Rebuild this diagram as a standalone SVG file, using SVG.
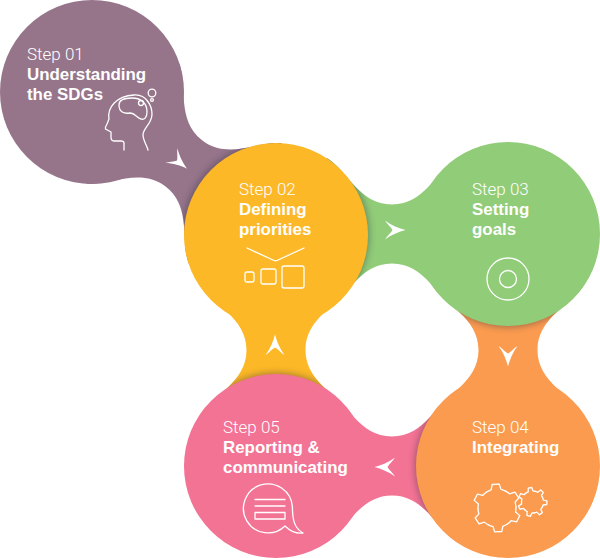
<svg xmlns="http://www.w3.org/2000/svg" width="600" height="558" viewBox="0 0 600 558">
<style>
.c1{fill:#96758B}.c2{fill:#FDB827}.c3{fill:#91CC78}.c4{fill:#FA9B50}.c5{fill:#F37395}
.step{font-family:"Roboto","Liberation Sans",sans-serif;font-weight:300;font-size:17px;fill:#fff}
.title{font-family:"Liberation Sans",Arial,sans-serif;font-weight:700;font-size:16.9px;fill:#fff}
.icon{fill:none;stroke:#fff;stroke-width:1.3;stroke-linejoin:round;stroke-linecap:round}
.shade{fill:#2a2a3a;opacity:.42;filter:url(#blur)}
.arrow{fill:#fff}
</style>
<defs>
<filter id="blur" x="-20%" y="-20%" width="140%" height="140%"><feGaussianBlur stdDeviation="3.5"/></filter>
<path id="neck" d="M-65,-76C-45,-64 -33,-29.5 0,-29.5C33,-29.5 45,-64 65,-76L65,76C45,64 33,29.5 0,29.5C-33,29.5 -45,64 -65,76Z"/>
<clipPath id="neckclip"><use href="#neck"/></clipPath>
<path id="arr" d="M10.500,0C4,-1.500 -4,-5 -10,-9.500C-8,-6 -4,-3 -2.500,0C-4,3 -8,6 -10,9.500C-4,5 4,1.500 10.500,0Z"/>
<path id="tb" d="M16.45,-9.5A19,19 0 0 1 18.35,-4.92L23.74,-3.55L23.74,3.55L18.35,4.92A19,19 0 0 1 16.45,9.5"/>
<path id="ts" d="M9.91,-4.77A11,11 0 0 1 10.72,-2.47L14.4,-1.8L14.4,1.8L10.72,2.47A11,11 0 0 1 9.91,4.77"/>
</defs>

<g id="connectors">
<g transform="translate(184 163.5) rotate(217.85)"><use href="#neck" class="c1"/><g clip-path="url(#neckclip)"><circle class="shade" cx="-116" cy="0" r="93"/></g></g>
<g transform="translate(392 234)"><use href="#neck" class="c3"/><g clip-path="url(#neckclip)"><circle class="shade" cx="-116" cy="0" r="93"/></g></g>
<g transform="translate(508 350) rotate(90)"><use href="#neck" class="c4"/><g clip-path="url(#neckclip)"><circle class="shade" cx="-116" cy="0" r="93"/></g></g>
<g transform="translate(392 466) rotate(180)"><use href="#neck" class="c5"/><g clip-path="url(#neckclip)"><circle class="shade" cx="-116" cy="0" r="93"/></g></g>
<g transform="translate(276 350) rotate(-90)"><use href="#neck" class="c2"/><g clip-path="url(#neckclip)"><circle class="shade" cx="-116" cy="0" r="93"/></g></g>
<use href="#arr" class="arrow" transform="translate(179 162) rotate(40)"/>
<use href="#arr" class="arrow" transform="translate(395 230)"/>
<use href="#arr" class="arrow" transform="translate(508 356) rotate(90)"/>
<use href="#arr" class="arrow" transform="translate(385 467) rotate(180)"/>
<use href="#arr" class="arrow" transform="translate(275 345) rotate(-90)"/>
</g>

<g id="step-01">
<circle class="c1" cx="92" cy="92" r="92"/>
<text class="step" x="27" y="60">Step 01</text>
<text class="title" x="27" y="80">Understanding</text>
<text class="title" x="27" y="100">the SDGs</text>
<g class="icon">
<path d="M124,150L124,143Q124,141 121,141L114,141Q111,141 111,137L111,132L105.5,129Q105,127 107,124L109,119C107,108 116,96 134,95C147,94 152,107 152,114C152,124 143,128 143,135C143,140 147,146 148,150"/>
<path d="M119,105C119,99 126,98 132,98C140,98 147,102 147,112C147,118 144,120 141,119C137,118 135,113 130,113C124,114 119,112 119,105Z"/>
<circle cx="141" cy="103" r="2.5"/>
<circle cx="152" cy="93" r="3.8"/>
<circle cx="152" cy="100" r="1.4"/>
</g>
</g>

<g id="step-02">
<circle class="c2" cx="276" cy="235" r="92"/>
<text class="step" x="239" y="195">Step 02</text>
<text class="title" x="239" y="215">Defining</text>
<text class="title" x="239" y="235">priorities</text>
<g class="icon">
<path d="M247,248L274,260.500Q275.500,261 277,260.500L304,248"/>
<rect x="245" y="272" width="9" height="10" rx="2"/>
<rect x="261" y="269" width="15" height="15" rx="2"/>
<rect x="282" y="266" width="22" height="22" rx="2"/>
</g>
</g>

<g id="step-03">
<circle class="c3" cx="508" cy="234" r="92"/>
<text class="step" x="472" y="195">Step 03</text>
<text class="title" x="472" y="215">Setting</text>
<text class="title" x="472" y="235">goals</text>
<g class="icon">
<circle cx="508" cy="279" r="21"/>
<circle cx="508" cy="279" r="8.500"/>
</g>
</g>

<g id="step-04">
<circle class="c4" cx="508" cy="466" r="92"/>
<text class="step" x="472" y="433">Step 04</text>
<text class="title" x="472" y="453">Integrating</text>
<g class="icon">
<g transform="translate(497 508)">
<use href="#tb" transform="rotate(-93)"/><use href="#tb" transform="rotate(-33)"/><use href="#tb" transform="rotate(27)"/><use href="#tb" transform="rotate(87)"/><use href="#tb" transform="rotate(147)"/><use href="#tb" transform="rotate(207)"/>
</g>
<g transform="translate(532.500 502)">
<use href="#ts" transform="rotate(-100)"/><use href="#ts" transform="rotate(-48.570)"/><use href="#ts" transform="rotate(2.860)"/><use href="#ts" transform="rotate(54.290)"/><use href="#ts" transform="rotate(105.710)"/><use href="#ts" transform="rotate(157.140)"/><use href="#ts" transform="rotate(208.570)"/>
</g>
</g>
</g>

<g id="step-05">
<circle class="c5" cx="276" cy="466" r="92"/>
<text class="step" x="223" y="433">Step 05</text>
<text class="title" x="223" y="453">Reporting &amp;</text>
<text class="title" x="223" y="473">communicating</text>
<g class="icon">
<path d="M285,526A24.500,24.500 0 1 1 292.400,507C292.500,519 294,528 303,533C295,534 290,531 285,526Z"/>
<path d="M255,499.500L285,499.500M255,506L285,506"/>
<rect x="255" y="512.500" width="30" height="6.500"/>
</g>
</g>
</svg>
